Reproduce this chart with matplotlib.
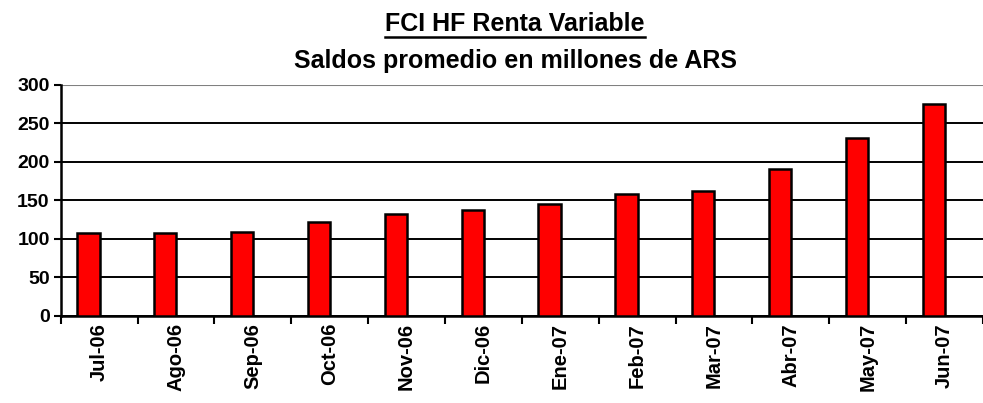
import matplotlib
matplotlib.use("Agg")
import matplotlib.pyplot as plt
from matplotlib.lines import Line2D
import numpy as np

months = ["Jul-06", "Ago-06", "Sep-06", "Oct-06", "Nov-06", "Dic-06",
          "Ene-07", "Feb-07", "Mar-07", "Abr-07", "May-07", "Jun-07"]
saldos = [107, 108, 109, 122, 132, 138, 145, 158, 162, 191, 231, 275]
y_ticks = [0, 50, 100, 150, 200, 250, 300]

plt.rcParams['font.family'] = ['Liberation Sans', 'DejaVu Sans']
plt.rcParams['font.weight'] = 'bold'

fig = plt.figure(figsize=(9.83, 4.03), dpi=100)
ax = fig.add_axes([0.0618, 0.216, 1.0 - 0.0618, 0.574])

x = np.arange(len(months))
ax.bar(x - 0.14, saldos, width=0.29, color='#FF0000', edgecolor='black',
       linewidth=1.8, zorder=3)

ax.set_ylim(0, 300)
ax.set_yticks(y_ticks)
ax.set_yticklabels([str(v) for v in y_ticks], fontsize=14, fontweight='bold')
ax.yaxis.grid(True, color='black', linewidth=1.4, zorder=0)
ax.set_axisbelow(True)

ax.set_xlim(-0.5, -0.5 + (983 - 60.7) / 77.7)
ax.set_xticks(np.arange(-0.5, len(months), 1.0))
ax.set_xticklabels([])
ax.set_xticks(x, minor=True)
ax.set_xticklabels(months, minor=True, rotation=90, fontsize=14.5,
                   fontweight='bold')
ax.tick_params(axis='x', which='major', direction='out', length=6,
               width=1.5, color='black')
ax.tick_params(axis='x', which='minor', length=0, pad=5)
ax.tick_params(axis='y', direction='out', length=5, width=1.5, pad=3)

for s in ['top', 'right']:
    ax.spines[s].set_visible(False)
ax.spines['left'].set_linewidth(1.8)
ax.spines['bottom'].set_linewidth(1.8)
ax.axhline(300, color='#808080', linewidth=1.5, zorder=1)

t1 = fig.text(0.524, 0.941, "FCI HF Renta Variable", ha='center', va='center',
              fontsize=18, fontweight='bold')
t2 = fig.text(0.524, 0.848, "Saldos promedio en millones de ARS",
              ha='center', va='center', fontsize=18, fontweight='bold')

fig.canvas.draw()
bb = t1.get_window_extent()
W, H = fig.bbox.width, fig.bbox.height
yl = (bb.y0 - 1) / H
fig.add_artist(Line2D([bb.x0 / W, bb.x1 / W], [yl, yl], color='black',
                      linewidth=1.8, transform=fig.transFigure))

fig.savefig("out.png", dpi=100)
